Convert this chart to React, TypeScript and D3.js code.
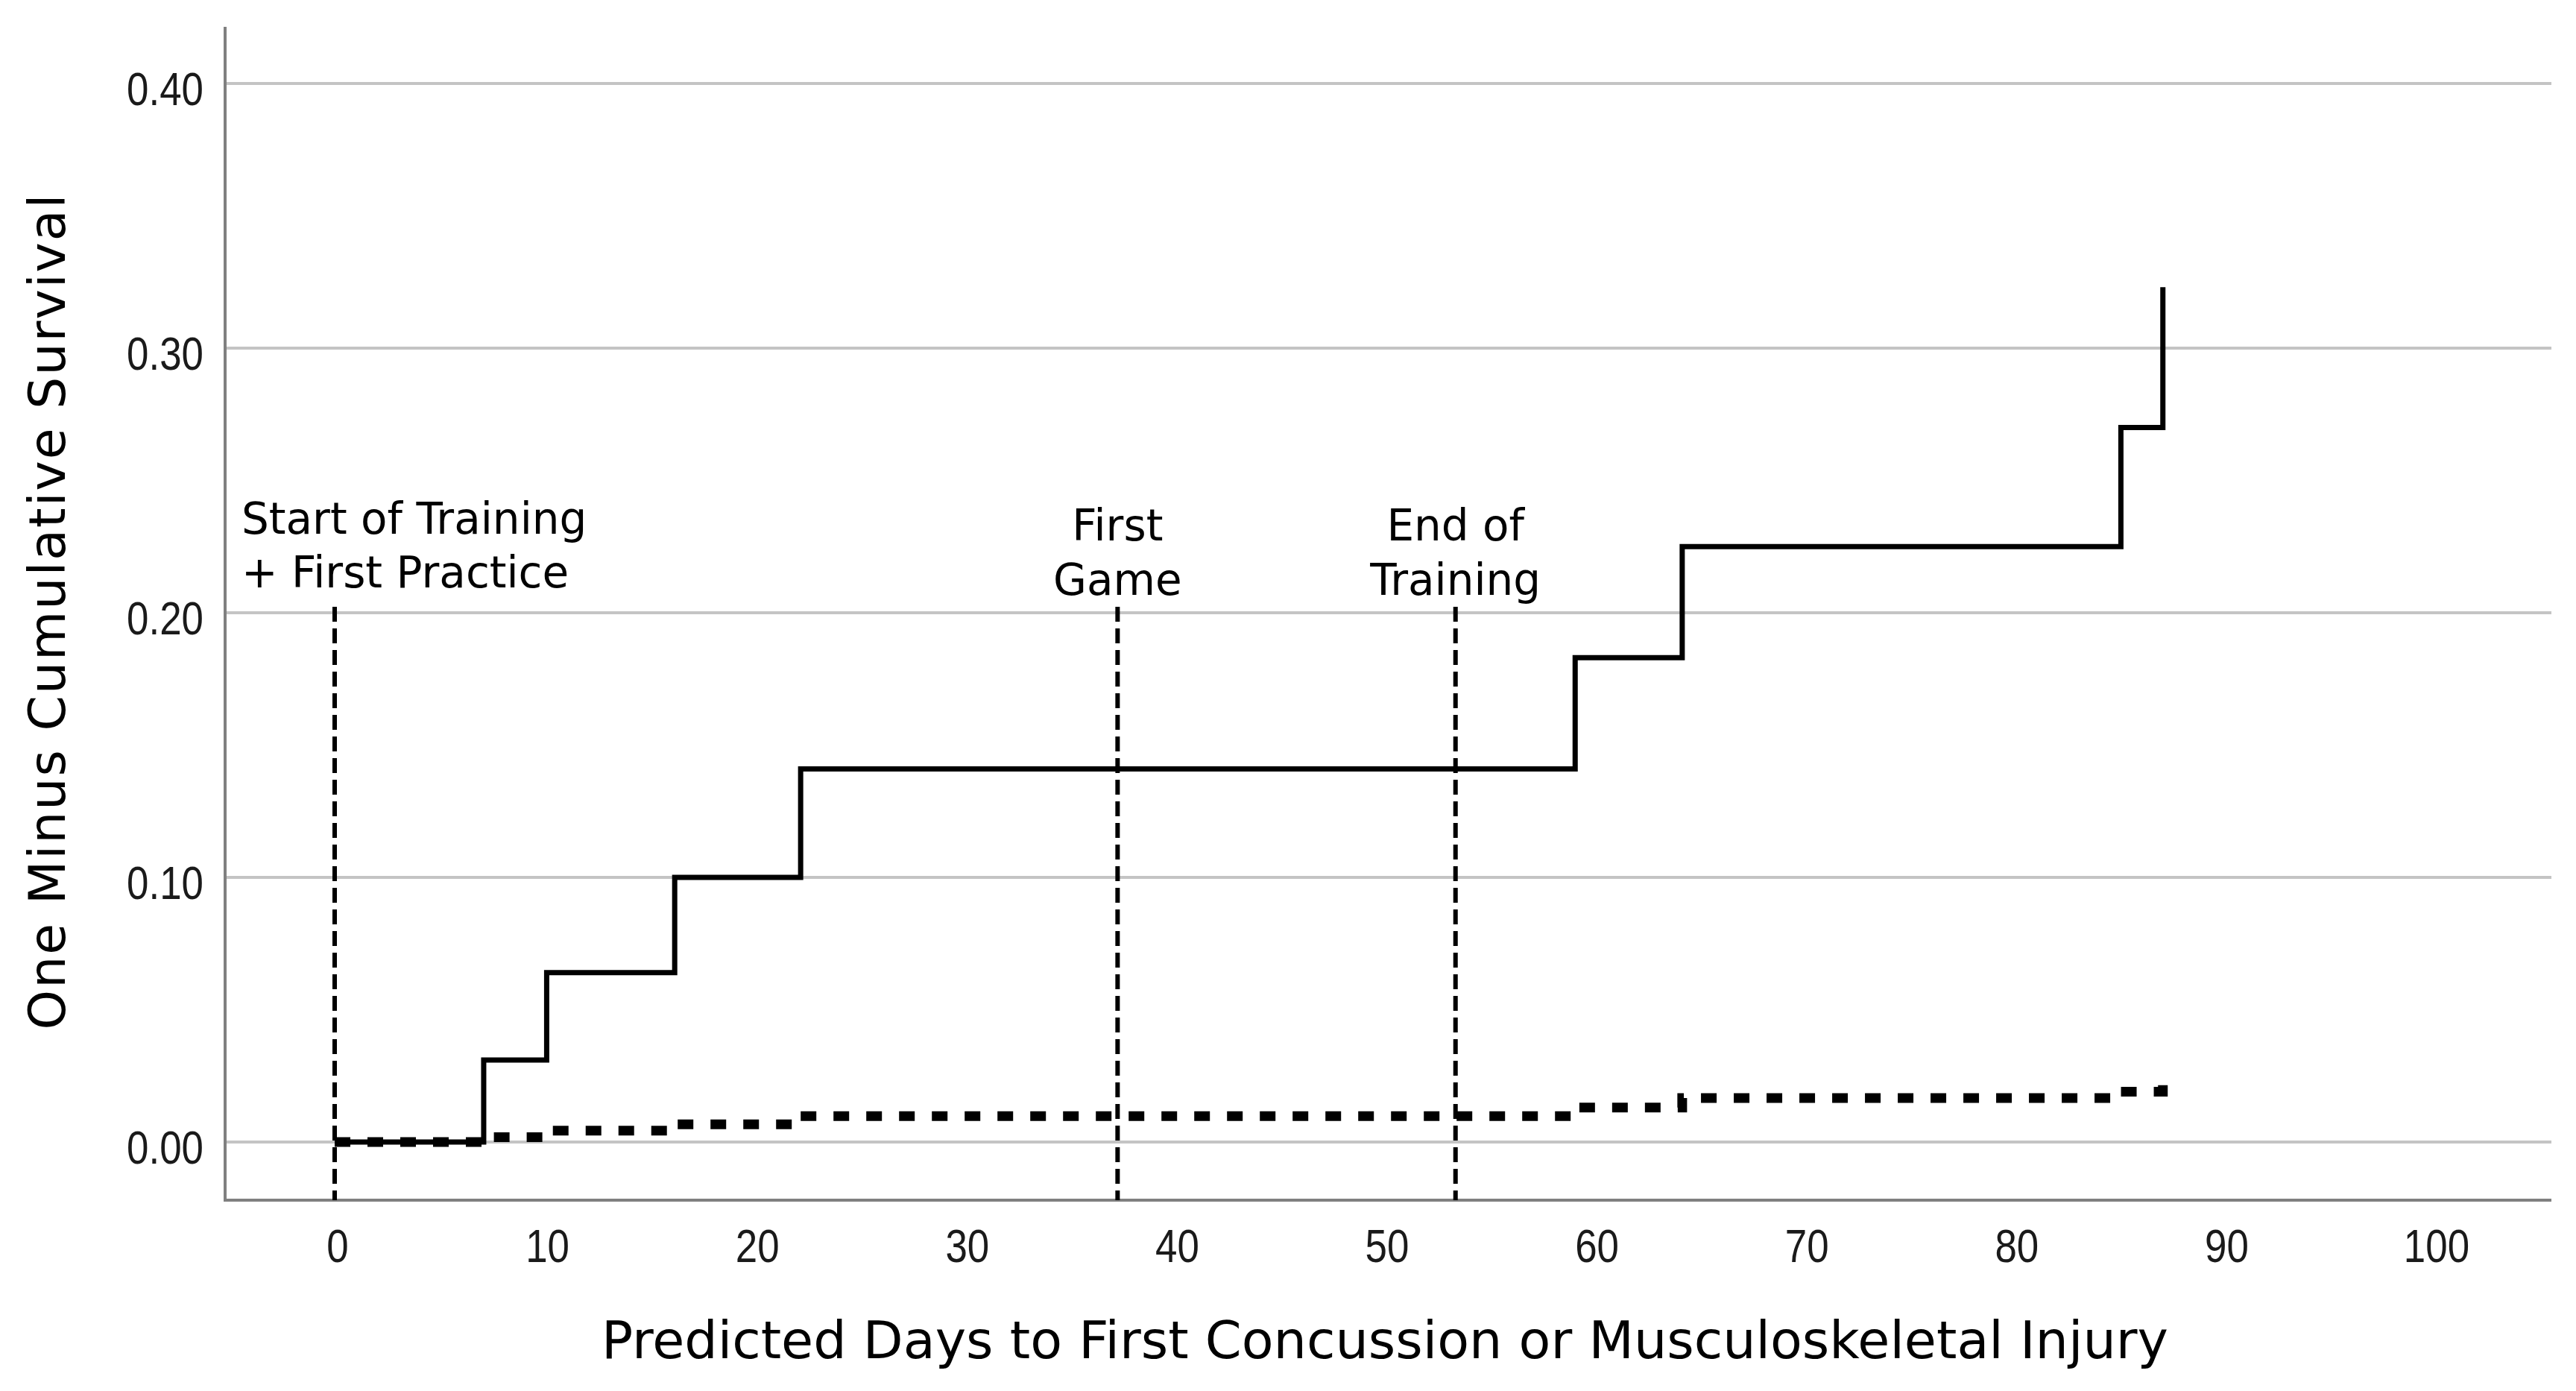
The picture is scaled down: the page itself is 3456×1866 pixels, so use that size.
import { useEffect } from 'react';
import * as d3 from 'd3';

// step change points (predicted days) shared by both curves
const stepDays = [0, 7.1, 10.1, 16.2, 22.2, 59.1, 64.2, 85.1, 87.1];
// one minus cumulative survival, solid curve
const solidValues = [0, 0.031, 0.064, 0.1, 0.141, 0.183, 0.225, 0.27, 0.323];
// one minus cumulative survival, dotted curve
const dottedValues = [0, 0.0018, 0.0043, 0.0067, 0.0098, 0.013, 0.0166, 0.019, 0.0235];

const xTicks = [0, 10, 20, 30, 40, 50, 60, 70, 80, 90, 100];
const yTicks = [0, 0.1, 0.2, 0.3, 0.4];

// vertical reference markers
const markerDays = [0, 37.3, 53.4];
const markerLabels = [
  ['Start of Training', '+ First Practice'],
  ['First', 'Game'],
  ['End of', 'Training'],
];

const W = 3456;
const H = 1866;
const plot = { left: 302, right: 3423, top: 36, bottom: 1610 };

const titleFont = '"DejaVu Sans", sans-serif';
const tickFont = '"Liberation Sans", Arial, sans-serif';
const tickSquash = 0.84; // narrow look of the tick labels

export default function App() {
  useEffect(() => {
    document.body.style.margin = '0';
  }, []);

  const x = d3.scaleLinear().domain([0, 100]).range([449, 3265]);
  const y = d3.scaleLinear().domain([0, 0.4]).range([1532, 112]);

  const line = d3
    .line<number>()
    .x((_, i) => x(stepDays[i]))
    .y((v) => y(v))
    .curve(d3.curveStepAfter);

  const markerTop = y(0.2) - 8;

  return (
    <svg width={W} height={H} style={{ display: 'block', background: '#fff' }}>
      {/* gridlines */}
      {yTicks.map((t) => (
        <line key={t} x1={plot.left} x2={plot.right} y1={y(t)} y2={y(t)} stroke="#c4c4c4" strokeWidth={4} />
      ))}

      {/* axes */}
      <line x1={plot.left} x2={plot.left} y1={plot.top} y2={plot.bottom} stroke="#808080" strokeWidth={4} />
      <line x1={plot.left - 2} x2={plot.right} y1={plot.bottom} y2={plot.bottom} stroke="#808080" strokeWidth={4} />

      {/* y tick labels */}
      {yTicks.map((t) => (
        <text
          key={t}
          transform={`translate(273, ${y(t) + 29}) scale(${tickSquash}, 1)`}
          textAnchor="end"
          fontFamily={tickFont}
          fontSize={63}
          fill="#1a1a1a"
        >
          {d3.format('.2f')(t)}
        </text>
      ))}

      {/* x tick labels */}
      {xTicks.map((t) => (
        <text
          key={t}
          transform={`translate(${x(t) + 4}, 1693) scale(${tickSquash}, 1)`}
          textAnchor="middle"
          fontFamily={tickFont}
          fontSize={63}
          fill="#1a1a1a"
        >
          {t}
        </text>
      ))}

      {/* reference markers */}
      {markerDays.map((d) => (
        <line key={d} x1={x(d)} x2={x(d)} y1={markerTop} y2={plot.bottom} stroke="#000" strokeWidth={6} strokeDasharray="20 9" />
      ))}

      {/* curves */}
      <path d={line(dottedValues) || ''} fill="none" stroke="#000" strokeWidth={13} strokeDasharray="21 23" />
      <path d={line(solidValues) || ''} fill="none" stroke="#000" strokeWidth={7} />

      {/* marker labels */}
      <text fontFamily={titleFont} fontSize={58} fill="#000">
        <tspan x={324} y={716}>{markerLabels[0][0]}</tspan>
        <tspan x={324} y={788}>{markerLabels[0][1]}</tspan>
      </text>
      {[1, 2].map((i) => (
        <text key={i} textAnchor="middle" fontFamily={titleFont} fontSize={58} fill="#000">
          <tspan x={x(markerDays[i])} y={725}>{markerLabels[i][0]}</tspan>
          <tspan x={x(markerDays[i])} y={798}>{markerLabels[i][1]}</tspan>
        </text>
      ))}

      {/* axis titles */}
      <text x={1858} y={1822} textAnchor="middle" fontFamily={titleFont} fontSize={70} fill="#000">
        Predicted Days to First Concussion or Musculoskeletal Injury
      </text>
      <text
        transform={`translate(87, 820) rotate(-90)`}
        textAnchor="middle"
        fontFamily={titleFont}
        fontSize={68}
        letterSpacing={2}
        fill="#000"
      >
        One Minus Cumulative Survival
      </text>
    </svg>
  );
}
